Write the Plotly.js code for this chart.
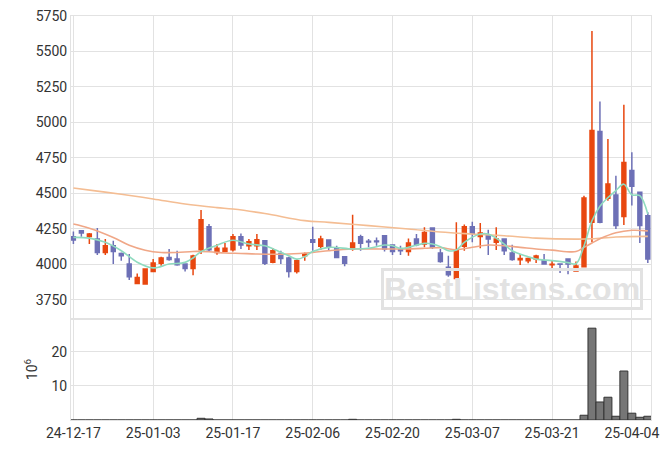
<!DOCTYPE html>
<html>
<head>
<meta charset="utf-8">
<script src="https://cdn.plot.ly/plotly-3.0.1.min.js"></script>
<style>
  html, body { margin: 0; padding: 0; background: #fff; }
  #chart { width: 671px; height: 449px; }
</style>
</head>
<body>
<div id="chart"></div>
<script>
const dates = [
  "24-12-17","24-12-18","24-12-19","24-12-20","24-12-23","24-12-24","24-12-26","24-12-27","24-12-30","25-01-02",
  "25-01-03","25-01-06","25-01-07","25-01-08","25-01-09","25-01-10","25-01-13","25-01-14","25-01-15","25-01-16",
  "25-01-17","25-01-20","25-01-21","25-01-22","25-01-23","25-01-24","25-01-31","25-02-03","25-02-04","25-02-05",
  "25-02-06","25-02-07","25-02-10","25-02-11","25-02-12","25-02-13","25-02-14","25-02-17","25-02-18","25-02-19",
  "25-02-20","25-02-21","25-02-24","25-02-25","25-02-26","25-02-27","25-02-28","25-03-04","25-03-05","25-03-06",
  "25-03-07","25-03-10","25-03-11","25-03-12","25-03-13","25-03-14","25-03-17","25-03-18","25-03-19","25-03-20",
  "25-03-21","25-03-24","25-03-25","25-03-26","25-03-27","25-03-28","25-03-31","25-04-01","25-04-02","25-04-03",
  "25-04-04","25-04-07","25-04-08"
];

const openP = [
  4195,4237,4197,4178,4084,4131,4077,4002,3866,3861,
  3950,4007,4049,4037,4002,3971,4103,4265,4084,4091,
  4103,4195,4131,4131,4167,4014,4077,4044,3950,4061,
  4174,4127,4171,4113,4054,4108,4195,4162,4164,4202,
  4136,4103,4091,4178,4143,4256,4080,3979,3901,4127,
  4265,4197,4202,4155,4178,4080,4033,4026,4037,4026,
  3997,4002,4037,3953,3983,4296,4936,4465,4489,4338,
  4661,4508,4343
];
const highP = [
  4232,4237,4221,4256,4178,4167,4084,4073,3936,3967,
  4037,4054,4108,4096,4002,4068,4383,4284,4143,4150,
  4214,4218,4178,4214,4171,4113,4096,4054,4037,4084,
  4265,4202,4171,4131,4054,4350,4209,4178,4190,4207,
  4136,4131,4183,4214,4261,4256,4108,4061,4296,4280,
  4301,4291,4244,4261,4178,4138,4073,4049,4068,4073,
  4026,4002,4042,4021,4484,5644,5148,4884,4625,5124,
  4790,4508,4367
];
const lowP = [
  4143,4195,4143,4066,4066,4002,4026,3889,3866,3861,
  3950,3990,4026,3990,3950,3924,4073,4089,4068,4085,
  4091,4108,4101,4101,3995,4007,4002,3908,3936,4026,
  4096,4101,4096,4044,3986,4096,4096,4120,4131,4091,
  4066,4066,4061,4127,4120,4108,4012,3913,3901,4096,
  4155,4113,4066,4101,4066,4026,3995,4007,4009,3997,
  3967,3939,3931,3953,3978,4155,4290,4449,4249,4277,
  4414,4150,4009
];
const closeP = [
  4171,4221,4214,4084,4131,4091,4061,3913,3908,3967,
  4009,4044,4035,3997,3971,4059,4315,4103,4113,4113,
  4195,4136,4160,4174,4007,4096,4042,3950,4026,4073,
  4155,4178,4127,4049,4007,4150,4148,4157,4160,4108,
  4091,4096,4150,4138,4225,4120,4021,3927,4096,4265,
  4218,4221,4178,4178,4096,4035,4042,4042,4059,4002,
  4000,4000,4002,3988,4468,4943,4296,4566,4273,4717,
  4550,4273,4037
];
// volume in millions
const volume = [
  0,0,0,0,0,0,0,0,0,0,
  0,0,0,0,0,0,0.5,0.3,0,0,
  0,0,0,0,0,0,0,0,0,0,
  0,0,0,0,0,0.2,0,0,0,0,
  0,0,0,0,0,0,0,0,0.2,0,
  0,0,0,0,0,0,0,0,0,0,
  0,0,0,0,1.4,27.0,5.3,6.7,1.1,14.4,
  2.0,0.8,1.1
];
const N = null;
// moving averages (null = not read; line joins readings)
const maShort = [
  4190,N,4185,N,4155,N,4096,N,4015,N,
  3975,N,4002,N,4014,4045,4090,N,4135,N,
  4170,N,4143,N,4131,4110,N,4060,4037,4054,
  4090,N,4120,N,N,4108,N,4113,N,4136,
  4131,4113,4120,N,4148,4143,4125,4096,4101,4155,
  N,4214,4214,4185,4143,4096,N,4054,4037,N,
  4026,N,4012,4004,4130,4307,4410,4470,4520,4565,
  4490,4484,4354
];
const maMid = [
  4284,N,4255,N,N,4190,N,4135,N,4100,
  N,4084,N,4084,N,4091,N,4089,N,4080,
  N,4077,N,4073,N,N,N,4073,N,N,
  4084,N,4096,N,N,4108,N,N,N,N,
  N,4108,N,N,4113,N,4118,N,4103,N,
  4120,N,4136,N,4131,N,4120,N,4108,N,
  4100,N,N,4090,4120,4150,4180,N,4222,N,
  4240,N,4236
];
const maLong = [
  4538,N,N,4516,N,N,4494,N,N,N,
  4461,N,N,N,4425,N,N,N,4400,N,
  4390,N,N,N,4358,N,N,N,N,4308,
  N,N,4296,N,N,N,N,4273,N,N,
  N,N,4249,N,N,N,4228,N,N,N,
  4214,N,N,N,4202,N,N,N,4185,N,
  N,N,N,4178,N,4180,N,N,4193,N,
  N,N,4197
];
const xTickLabels = ["24-12-17","25-01-03","25-01-17","25-02-06","25-02-20","25-03-07","25-03-21","25-04-04"];
const priceTicks = [3750,4000,4250,4500,4750,5000,5250,5500,5750];
const volTicks = [10,20];

const traces = [
  {
    type: 'candlestick', x: dates, open: openP, high: highP, low: lowP, close: closeP,
    xaxis: 'x', yaxis: 'y',
    increasing: { line: { color: '#e8470f', width: 1.5 }, fillcolor: '#e8470f' },
    decreasing: { line: { color: '#6d70b6', width: 1.5 }, fillcolor: '#6d70b6' },
    whiskerwidth: 0, hoverinfo: 'skip', showlegend: false
  },
  {
    type: 'scatter', mode: 'lines', x: dates, y: maLong, connectgaps: true,
    line: { color: '#f4bd93', width: 1.6, shape: 'spline' }, hoverinfo: 'skip', showlegend: false
  },
  {
    type: 'scatter', mode: 'lines', x: dates, y: maMid, connectgaps: true,
    line: { color: '#f0a787', width: 1.6, shape: 'spline' }, hoverinfo: 'skip', showlegend: false
  },
  {
    type: 'scatter', mode: 'lines', x: dates, y: maShort, connectgaps: true,
    line: { color: '#8fdbbf', width: 1.6, shape: 'spline' }, hoverinfo: 'skip', showlegend: false
  },
  {
    type: 'bar', x: dates, y: volume, xaxis: 'x', yaxis: 'y2',
    marker: { color: '#767676', line: { color: '#333333', width: 1 } },
    hoverinfo: 'skip', showlegend: false
  }
];

const gridC = '#e2e2e2';
const tickFont = { family: 'Roboto, sans-serif', size: 14, color: '#333' };

const layout = {
  width: 671, height: 449,
  margin: { l: 71, r: 20, t: 16, b: 29 },
  paper_bgcolor: '#fff', plot_bgcolor: '#fff',
  showlegend: false,
  bargap: 0,
  xaxis: {
    type: 'category', anchor: 'y2',
    range: [-0.3, 72.4],
    tickmode: 'array', tickvals: xTickLabels, ticktext: xTickLabels,
    showgrid: true, gridcolor: gridC, gridwidth: 1,
    showline: true, linecolor: gridC, linewidth: 1, mirror: 'all',
    ticks: '', tickfont: tickFont,
    rangeslider: { visible: false }, fixedrange: true
  },
  yaxis: {
    domain: [0.25, 1], range: [3615, 5750],
    tickmode: 'array', tickvals: priceTicks,
    showgrid: true, gridcolor: gridC,
    showline: true, linecolor: gridC, mirror: true,
    zeroline: false, ticks: '', tickfont: tickFont
  },
  yaxis2: {
    domain: [0, 0.25], range: [0, 29.7],
    tickmode: 'array', tickvals: volTicks,
    showgrid: true, gridcolor: gridC,
    showline: true, linecolor: gridC, mirror: true,
    zeroline: false, ticks: '', tickfont: tickFont,
    title: { text: '10<sup>6</sup>', font: { family: 'Roboto, sans-serif', size: 14, color: '#333' }, standoff: 10 }
  },
  annotations: [{
    xref: 'paper', yref: 'paper', x: 0.76, y: 0.324,
    xanchor: 'center', yanchor: 'middle',
    text: '<b>BestListens.com</b>', showarrow: false,
    font: { family: 'Liberation Sans, Arial, sans-serif', size: 32, color: '#e2e2e2' },
    bordercolor: '#e2e2e2', borderwidth: 3, borderpad: 0
  }]
};

Plotly.newPlot('chart', traces, layout, { displayModeBar: false, staticPlot: true });
</script>
</body>
</html>
